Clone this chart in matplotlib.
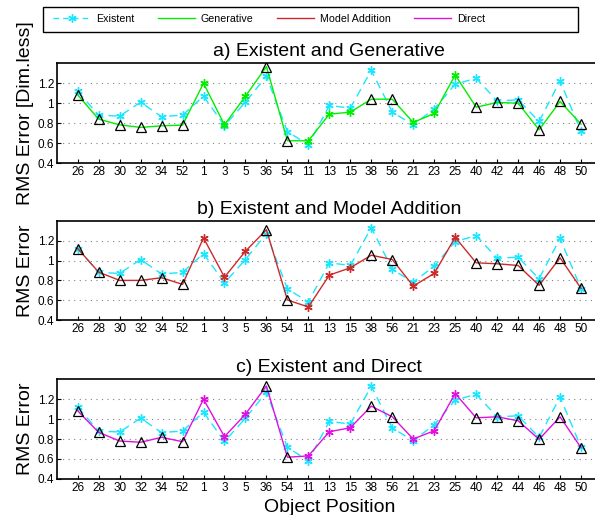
"""
RMS error per object position: Existent vs Generative / Model Addition / Direct
"""

import matplotlib
matplotlib.use("Agg")
import matplotlib.pyplot as plt
from matplotlib.lines import Line2D
from matplotlib.patches import Rectangle

plt.rcParams['font.family'] = ['Liberation Sans', 'DejaVu Sans']

# object positions on the x axis
categories = ['26', '28', '30', '32', '34', '52', '1', '3', '5', '36', '54', '11', '13',
              '15', '38', '56', '21', '23', '25', '40', '42', '44', '46', '48', '50']

# positions marked with a triangle (the others get an asterisk)
triangle_pos = ['26', '28', '30', '32', '34', '52', '36', '54', '38', '56',
                '40', '42', '44', '46', '48', '50']

existent = [1.12, 0.88, 0.87, 1.01, 0.865, 0.88, 1.07, 0.775, 1.01, 1.27, 0.715, 0.583, 0.977,
            0.95, 1.33, 0.91, 0.783, 0.943, 1.19, 1.25, 1.023, 1.033, 0.817, 1.223, 0.717]
generative = [1.083, 0.84, 0.783, 0.757, 0.773, 0.78, 1.20, 0.783, 1.07, 1.367, 0.623, 0.623, 0.89,
              0.91, 1.04, 1.04, 0.807, 0.897, 1.283, 0.96, 1.007, 1.0, 0.733, 1.017, 0.79]
model_addition = [1.12, 0.883, 0.80, 0.80, 0.827, 0.76, 1.227, 0.833, 1.093, 1.31, 0.603, 0.533, 0.853,
                  0.927, 1.053, 1.01, 0.743, 0.87, 1.233, 0.977, 0.967, 0.95, 0.75, 1.027, 0.72]
direct = [1.083, 0.867, 0.78, 0.767, 0.817, 0.773, 1.20, 0.823, 1.05, 1.333, 0.617, 0.63, 0.873,
          0.913, 1.13, 1.023, 0.80, 0.883, 1.257, 1.013, 1.023, 0.983, 0.797, 1.023, 0.713]

yticks = [0.4, 0.6, 0.8, 1.0, 1.2]
ytick_labels = ['0.4', '0.6', '0.8', '1', '1.2']

panels = [
    ('a) Existent and Generative', 'Generative', generative, '#00ee00', 'RMS Error [Dim.less]'),
    ('b) Existent and Model Addition', 'Model Addition', model_addition, '#cc2a2a', 'RMS Error'),
    ('c) Existent and Direct', 'Direct', direct, '#e010e0', 'RMS Error'),
]

CYAN = '#1ae6ff'
ASTERISK = (6, 2, 0)

W, H = 595, 515
fig = plt.figure(figsize=(W / 100, H / 100), dpi=100)

# axes boxes in pixels: (left, top, right, bottom)
boxes = [(56.7, 63.3, 602, 163), (56.7, 220.7, 602, 320.2), (56.7, 379.3, 602, 478.8)]

x = list(range(len(categories)))
tri = [c in triangle_pos for c in categories]

for (title, name, values, color, ylabel), (l, t, r, b) in zip(panels, boxes):
    ax = fig.add_axes([l / W, 1 - b / H, (r - l) / W, (b - t) / H])

    for yv in yticks[1:]:
        ax.axhline(yv, color='#808080', lw=0.8, ls=(0, (1, 4)), zorder=0)

    # existent: dashed cyan with asterisks
    ax.plot(x, existent, color=CYAN, lw=1.0, ls=(0, (6, 4)), marker=ASTERISK,
            markersize=6, markeredgewidth=1.0, zorder=2)

    ax.plot(x, values, color=color, lw=1.0, zorder=3)
    xs = [i for i in x if not tri[i]]
    ax.plot(xs, [values[i] for i in xs], ls='none', marker=ASTERISK, markersize=6,
            markeredgewidth=1.0, color=color, zorder=4)
    xt = [i for i in x if tri[i]]
    ax.plot(xt, [values[i] for i in xt], ls='none', marker='^', markersize=7,
            markerfacecolor='none', markeredgecolor='black', markeredgewidth=0.9, zorder=5)

    ax.set_xlim(-1, 25)
    ax.set_ylim(0.4, 1.4)
    ax.set_xticks(x)
    ax.set_xticklabels(categories, fontsize=8.5)
    ax.set_yticks(yticks)
    ax.set_yticklabels(ytick_labels, fontsize=8.5)
    ax.tick_params(direction='in', length=3, width=0.8, pad=2)
    for s in ax.spines.values():
        s.set_linewidth(1.2)
    ax.set_title(title, fontsize=14, pad=5)
    ax.set_ylabel(ylabel, fontsize=14)
    ax.yaxis.set_label_coords(-0.042, 0.5)

ax.set_xlabel('Object Position', fontsize=14, labelpad=4)

# legend across the top
handles = [
    Line2D([], [], color=CYAN, lw=1.0, ls=(0, (4, 3)), marker=ASTERISK, markersize=6),
    Line2D([], [], color=panels[0][3], lw=1.0),
    Line2D([], [], color=panels[1][3], lw=1.0),
    Line2D([], [], color=panels[2][3], lw=1.0),
]
labels = ['Existent', 'Generative', 'Model Addition', 'Direct']
fig.legend(handles, labels, ncol=4, frameon=False, fontsize=7.7, loc='center left',
           bbox_to_anchor=(53 / W, 1 - 19.2 / H), borderpad=0, borderaxespad=0,
           handlelength=3.5, handletextpad=0.5, columnspacing=2.2)
fig.patches.append(Rectangle((42.7 / W, 1 - 31.7 / H), (578 - 42.7) / W, 25 / H,
                             transform=fig.transFigure, fill=False, edgecolor='black',
                             linewidth=1.0))

fig.savefig('out.png', dpi=100)
